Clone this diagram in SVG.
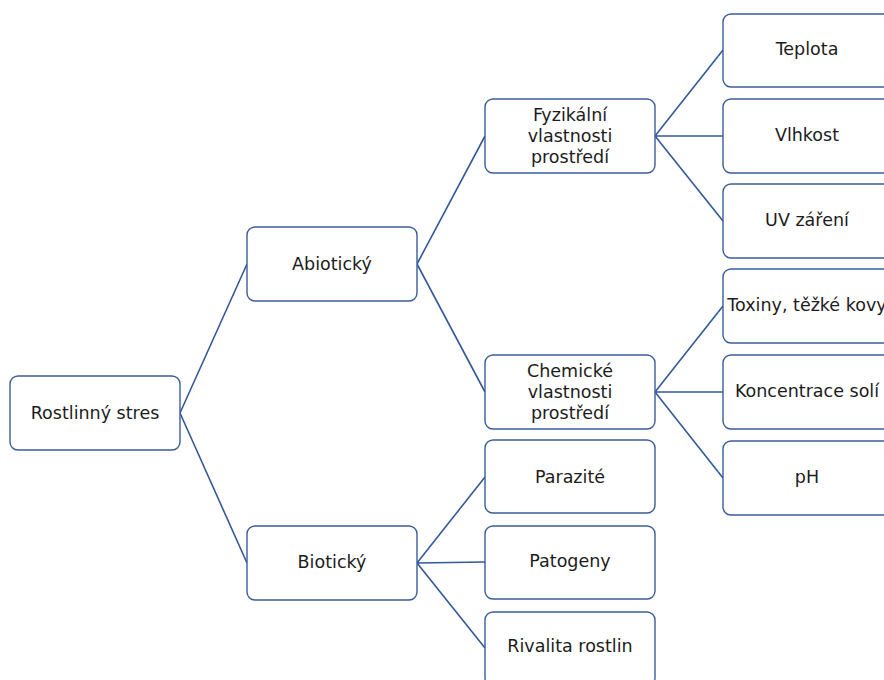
<svg xmlns="http://www.w3.org/2000/svg" width="884" height="680" viewBox="0 0 884 680">
<style>
.box{fill:#ffffff;stroke:#3A5D9C;stroke-width:1.4}
.t{font-family:"DejaVu Sans","Open Sans",sans-serif;font-size:17.5px;fill:#1c1c1c;text-anchor:middle}
.c{stroke:#34599A;stroke-width:1.6;fill:none}
</style>
<rect width="884" height="680" fill="#ffffff"/>
<g id="connectors">
<path class="c" d="M180,413 L247,264 M180,413 L247,563"/>
<path class="c" d="M417,264 L485,136 M417,264 L485,392"/>
<path class="c" d="M417,563 L485,477 M417,563 L485,562 M417,563 L485,648"/>
<path class="c" d="M655,136 L723,50 M655,136 L723,136 M655,136 L723,221"/>
<path class="c" d="M655,392 L723,306 M655,392 L723,392 M655,392 L723,478"/>
</g>
<g id="n-root"><rect class="box" x="10" y="376" width="170" height="74" rx="8"/><text class="t" x="95" y="419">Rostlinný stres</text></g>
<g id="n-abioticky"><rect class="box" x="247" y="227" width="170" height="74" rx="8"/><text class="t" x="332" y="270">Abiotický</text></g>
<g id="n-bioticky"><rect class="box" x="247" y="526" width="170" height="74" rx="8"/><text class="t" x="332" y="568">Biotický</text></g>
<g id="n-fyzikalni"><rect class="box" x="485" y="99" width="170" height="74" rx="8"/><text class="t" x="570" y="121">Fyzikální</text><text class="t" x="570" y="142">vlastnosti</text><text class="t" x="570" y="163">prostředí</text></g>
<g id="n-chemicke"><rect class="box" x="485" y="355" width="170" height="74" rx="8"/><text class="t" x="570" y="377">Chemické</text><text class="t" x="570" y="398">vlastnosti</text><text class="t" x="570" y="419">prostředí</text></g>
<g id="n-parazite"><rect class="box" x="485" y="440" width="170" height="73" rx="8"/><text class="t" x="570" y="483">Parazité</text></g>
<g id="n-patogeny"><rect class="box" x="485" y="526" width="170" height="73" rx="8"/><text class="t" x="570" y="567">Patogeny</text></g>
<g id="n-rivalita"><rect class="box" x="485" y="612" width="170" height="74" rx="8"/><text class="t" x="570" y="652">Rivalita rostlin</text></g>
<g id="n-teplota"><rect class="box" x="723" y="14" width="170" height="73" rx="8"/><text class="t" x="807" y="55">Teplota</text></g>
<g id="n-vlhkost"><rect class="box" x="723" y="99" width="170" height="74" rx="8"/><text class="t" x="807" y="141">Vlhkost</text></g>
<g id="n-uv"><rect class="box" x="723" y="184" width="170" height="74" rx="8"/><text class="t" x="807" y="226">UV záření</text></g>
<g id="n-toxiny"><rect class="box" x="723" y="269" width="170" height="74" rx="8"/><text class="t" x="807" y="311">Toxiny, těžké kovy</text></g>
<g id="n-koncentrace"><rect class="box" x="723" y="355" width="170" height="74" rx="8"/><text class="t" x="807" y="397">Koncentrace solí</text></g>
<g id="n-ph"><rect class="box" x="723" y="441" width="170" height="74" rx="8"/><text class="t" x="807" y="483">pH</text></g>
</svg>
